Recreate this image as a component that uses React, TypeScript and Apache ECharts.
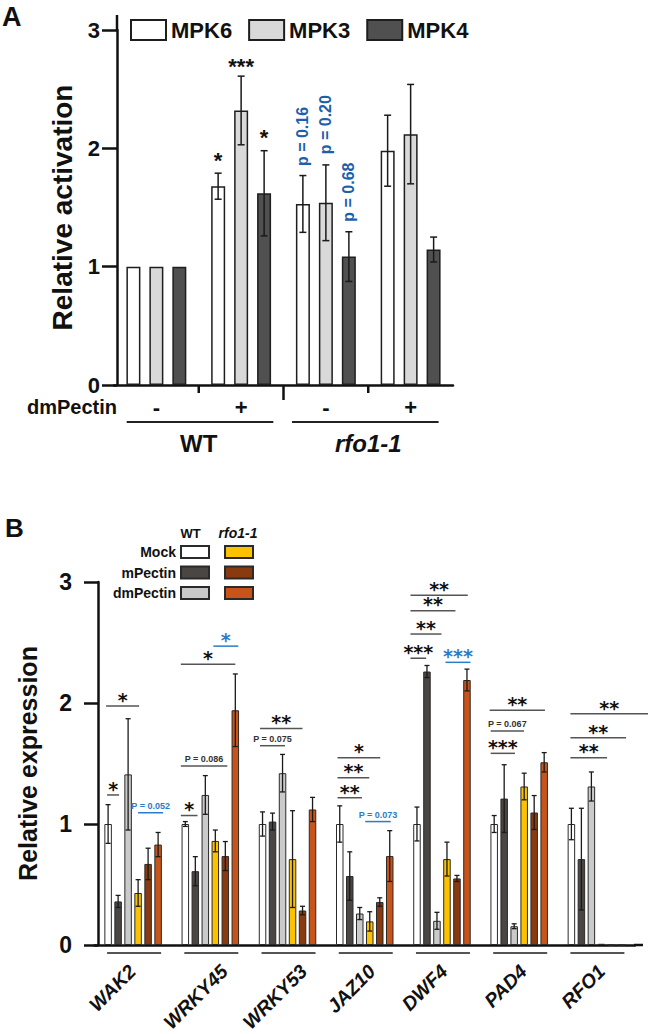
import React, { useEffect, useRef } from 'react';
import * as echarts from 'echarts';

// ---------------- Panel A data ----------------
const treatmentsA = ['-', '+', '-', '+'];
const genotypesA = ['WT', 'rfo1-1'];
const kinases = ['MPK6', 'MPK3', 'MPK4'];
const mpk6Mean = [1, 1.68, 1.53, 1.98];
const mpk6Err = [0, 0.11, 0.24, 0.3];
const mpk3Mean = [1, 2.32, 1.54, 2.12];
const mpk3Err = [0, 0.29, 0.32, 0.42];
const mpk4Mean = [1, 1.62, 1.085, 1.145];
const mpk4Err = [0, 0.36, 0.21, 0.105];
// [category, kinase index, value at label centre, label]
const starsA: [number, number, number, string][] = [
  [1, 0, 1.94, '*'],
  [1, 1, 2.73, '***'],
  [1, 2, 2.13, '*'],
];
const pValuesA: [number, number, number, string][] = [
  [2, 0, 2.1, 'p = 0.16'],
  [2, 1, 2.2, 'p = 0.20'],
  [2, 2, 1.63, 'p = 0.68'],
];

// ---------------- Panel B data ----------------
const genes = ['WAK2', 'WRKY45', 'WRKY53', 'JAZ10', 'DWF4', 'PAD4', 'RFO1'];
const treatmentsB = ['Mock', 'mPectin', 'dmPectin'];
const wtMock = [1.0, 1.0, 1.0, 1.0, 1.0, 1.0, 1.0];
const wtMockErr = [0.16, 0.02, 0.1, 0.15, 0.14, 0.07, 0.13];
const wtM = [0.36, 0.61, 1.02, 0.57, 2.26, 1.21, 0.71];
const wtMErr = [0.05, 0.12, 0.07, 0.2, 0.05, 0.28, 0.42];
const wtDm = [1.41, 1.24, 1.42, 0.26, 0.2, 0.155, 1.31];
const wtDmErr = [0.46, 0.16, 0.155, 0.05, 0.07, 0.02, 0.12];
const rfMock = [0.43, 0.86, 0.71, 0.195, 0.71, 1.31, 0.01];
const rfMockErr = [0.11, 0.09, 0.4, 0.08, 0.14, 0.11, 0];
const rfM = [0.67, 0.735, 0.285, 0.355, 0.55, 1.095, 0];
const rfMErr = [0.13, 0.12, 0.035, 0.035, 0.025, 0.14, 0];
const rfDm = [0.83, 1.94, 1.12, 0.735, 2.19, 1.51, 0];
const rfDmErr = [0.1, 0.3, 0.1, 0.21, 0.09, 0.08, 0];
// [gene, from bar, to bar, value of line, label, blue]
const sigB: [number, number, number, number, string, boolean][] = [
  [0, -0.1, 1.1, 1.24, '*', false],
  [0, -0.2, 3.1, 1.975, '*', false],
  [0, 3.0, 5.5, 1.093, 'P = 0.052', true],
  [1, -0.45, 1.22, 1.07, '*', false],
  [1, -0.45, 4.2, 1.48, 'P = 0.086', false],
  [1, -0.45, 5.0, 2.32, '*', false],
  [1, 2.8, 5.3, 2.47, '*', true],
  [2, -0.25, 2.25, 1.647, 'P = 0.075', false],
  [2, -0.25, 4.0, 1.79, '**', false],
  [3, -0.22, 2.22, 1.217, '**', false],
  [3, -0.22, 2.95, 1.383, '**', false],
  [3, -0.22, 4.05, 1.548, '*', false],
  [3, 2.55, 5.1, 1.02, 'P = 0.073', true],
  [4, -0.65, 0.92, 2.37, '***', false],
  [4, -0.65, 2.45, 2.57, '**', false],
  [4, -0.65, 3.85, 2.763, '**', false],
  [4, -0.65, 5.08, 2.89, '**', false],
  [4, 2.85, 5.35, 2.336, '***', true],
  [5, -0.35, 2.08, 1.584, '***', false],
  [5, -0.35, 2.98, 1.769, 'P = 0.067', false],
  [5, -0.45, 5.08, 1.94, '**', false],
  [6, -0.1, 3.57, 1.548, '**', false],
  [6, -0.1, 5.47, 1.713, '**', false],
  [6, -0.1, 7.67, 1.911, '**', false],
];

// ---------------- style / layout constants ----------------
const FONT = '"Liberation Sans", Arial, Helvetica, sans-serif';
const STAR_FONT = '"DejaVu Sans", "Liberation Sans", sans-serif';
const INK = '#111111';
const BLUE_A = '#1d5fab';
const BLUE_B = '#2b7cc6';
const A_BAR_W = 14;
const A_STEP = 23;
const B_BAR_W = 7.5;
const B_STEP = 10;
const GRID_A = { left: 114, top: 30, width: 339, height: 355 };
const GRID_B = { left: 94.5, top: 582, width: 540.5, height: 363 };
const labelShiftB = [-1, 14, 16, 7, 2, 4, 5];
const colorsA = ['#ffffff', '#d9d9d9', '#505050'];
const colorsB = ['#ffffff', '#4a4644', '#cbcacb', '#fcc200', '#893a0e', '#c9541a'];

function errData(means: number[], errs: number[], k: number) {
  return means.map((m, i) => [i, m, errs[i], k]).filter((d) => d[2] > 0);
}

function errSeries(gi: number, data: number[][], step: number, n: number, cap: number, lw: number) {
  return {
    type: 'custom',
    xAxisIndex: gi,
    yAxisIndex: gi,
    z: 5,
    silent: true,
    clip: false,
    encode: { x: 0, y: 1 },
    data,
    renderItem: (_p: any, api: any) => {
      const cat = api.value(0);
      const m = api.value(1);
      const e = api.value(2);
      const k = api.value(3);
      const base = api.coord([cat, m]);
      const x = base[0] + (k - (n - 1) / 2) * step;
      const yt = api.coord([cat, m + e])[1];
      const yb = api.coord([cat, m - e])[1];
      const st = { stroke: '#1a1a1a', lineWidth: lw };
      return {
        type: 'group',
        children: [
          { type: 'line', shape: { x1: x, y1: yt, x2: x, y2: yb }, style: st },
          { type: 'line', shape: { x1: x - cap, y1: yt, x2: x + cap, y2: yt }, style: st },
          { type: 'line', shape: { x1: x - cap, y1: yb, x2: x + cap, y2: yb }, style: st },
        ],
      };
    },
  };
}

function buildOption() {
  const meansA = [mpk6Mean, mpk3Mean, mpk4Mean];
  const errsA = [mpk6Err, mpk3Err, mpk4Err];
  const meansB = [wtMock, wtM, wtDm, rfMock, rfM, rfDm];
  const errsB = [wtMockErr, wtMErr, wtDmErr, rfMockErr, rfMErr, rfDmErr];
  const namesB = [...treatmentsB, ...treatmentsB.map((t) => 'rfo1-1 ' + t)];

  const barsA = kinases.map((name, k) => ({
    type: 'bar',
    name,
    xAxisIndex: 0,
    yAxisIndex: 0,
    data: meansA[k],
    barWidth: A_BAR_W,
    barGap: '64%',
    itemStyle: { color: colorsA[k], borderColor: '#1e1e1e', borderWidth: 1.5 },
  }));
  const barsB = namesB.map((name, k) => ({
    type: 'bar',
    name,
    xAxisIndex: 1,
    yAxisIndex: 1,
    data: meansB[k],
    barWidth: B_BAR_W,
    barGap: '33.3%',
    itemStyle: { color: colorsB[k], borderColor: '#2a2a2a', borderWidth: 1 },
  }));
  const errA = ([] as number[][]).concat(...meansA.map((m, k) => errData(m, errsA[k], k)));
  const errB = ([] as number[][]).concat(...meansB.map((m, k) => errData(m, errsB[k], k)));

  const yAxisCommon = (gi: number, name: string, nameSize: number, nameGap: number, tickLen: number, labelSize: number, margin: number, offset: number) => ({
    type: 'value',
    gridIndex: gi,
    min: 0,
    max: 3,
    interval: 1,
    offset,
    name,
    nameLocation: 'middle',
    nameGap,
    nameTextStyle: { fontFamily: FONT, fontSize: nameSize, fontWeight: 'bold', color: INK },
    splitLine: { show: false },
    axisLine: { show: true, lineStyle: { color: INK, width: 2.5 } },
    axisTick: { show: true, length: tickLen, lineStyle: { color: INK, width: 2.5 } },
    axisLabel: { fontFamily: FONT, fontSize: labelSize, fontWeight: 'bold', color: INK, margin },
  });

  return {
    animation: false,
    backgroundColor: '#ffffff',
    textStyle: { fontFamily: FONT },
    grid: [GRID_A, GRID_B],
    legend: [
      {
        data: kinases,
        left: 130,
        top: 19,
        padding: 0,
        itemWidth: 35,
        itemHeight: 20,
        itemGap: 16,
        icon: 'rect',
        selectedMode: false,
        textStyle: { fontFamily: FONT, fontSize: 22, fontWeight: 'bold', color: INK },
      },
      {
        data: treatmentsB,
        orient: 'vertical',
        align: 'right',
        right: 438,
        top: 545,
        padding: 0,
        itemWidth: 28,
        itemHeight: 12,
        itemGap: 6.5,
        icon: 'rect',
        selectedMode: false,
        textStyle: { fontFamily: FONT, fontSize: 14, fontWeight: 'bold', color: INK, lineHeight: 12 },
      },
      {
        data: namesB.slice(3),
        orient: 'vertical',
        left: 224,
        top: 545,
        padding: 0,
        itemWidth: 28,
        itemHeight: 12,
        itemGap: 6.5,
        icon: 'rect',
        selectedMode: false,
        formatter: () => '',
        textStyle: { fontSize: 1, lineHeight: 12 },
      },
    ],
    xAxis: [
      {
        type: 'category',
        gridIndex: 0,
        data: treatmentsA,
        axisLine: { lineStyle: { color: INK, width: 2.5 } },
        axisTick: { show: false },
        axisLabel: { fontFamily: FONT, fontSize: 22, fontWeight: 'bold', color: INK, margin: 11 },
      },
      {
        type: 'category',
        gridIndex: 1,
        data: genes,
        axisLine: { lineStyle: { color: INK, width: 2.5 } },
        axisTick: { show: false },
        axisLabel: { show: false },
      },
    ],
    yAxis: [
      yAxisCommon(0, 'Relative activation', 28, 37, 15, 22, 17, -3),
      yAxisCommon(1, 'Relative expression', 25, 58, 14, 23, 26, -3.5),
    ],
    series: [
      ...barsA,
      ...barsB,
      errSeries(0, errA, A_STEP, 3, 3.5, 1.5),
      errSeries(1, errB, B_STEP, 6, 2.5, 1.3),
    ],
  };
}

function buildGraphics(chart: any) {
  const g: any[] = [];
  const px = (gi: number, c: number, v: number) => chart.convertToPixel({ gridIndex: gi }, [c, v]) as number[];
  const text = (x: number, y: number, t: string, o: any = {}, extra: any = {}) => ({
    type: 'text',
    x,
    y,
    z: 50,
    silent: true,
    ...extra,
    style: {
      text: t,
      fontFamily: FONT,
      fontSize: 14,
      fontWeight: 'bold',
      fill: INK,
      align: 'center',
      verticalAlign: 'middle',
      ...o,
    },
  });
  const line = (x1: number, y1: number, x2: number, y2: number, stroke = INK, w = 2) => ({
    type: 'line',
    z: 50,
    silent: true,
    shape: { x1, y1, x2, y2 },
    style: { stroke, lineWidth: w },
  });

  // ---- Panel A ----
  g.push(text(2, 17, 'A', { fontSize: 27, align: 'left' }));
  const a0 = px(0, 0, 0);
  const bandA = px(0, 1, 0)[0] - a0[0];
  const axA = GRID_A.left + 3;
  const yA3 = px(0, 0, 3)[1];
  g.push(line(axA, yA3, axA, yA3 - 15, INK, 2.5));
  [1, 2, 3].forEach((i) => {
    const x = a0[0] + (i - 0.5) * bandA;
    g.push(line(x, a0[1], x, a0[1] + (i === 2 ? 15 : 8), INK, 2.5));
  });
  g.push(text(axA, a0[1] + 22, 'dmPectin', { fontSize: 20, align: 'right' }));
  g.push(line(a0[0] - 0.35 * bandA, a0[1] + 37, a0[0] + 1.38 * bandA, a0[1] + 37, '#222', 1.8));
  g.push(line(a0[0] + 1.6 * bandA, a0[1] + 37, a0[0] + 3.33 * bandA, a0[1] + 37, '#222', 1.8));
  g.push(text(a0[0] + 0.5 * bandA, a0[1] + 58, genotypesA[0], { fontSize: 24 }));
  g.push(text(a0[0] + 2.5 * bandA, a0[1] + 58, genotypesA[1], { fontSize: 24, fontStyle: 'italic' }));
  starsA.forEach(([c, k, v, t]) => {
    const p = px(0, c, v);
    g.push(text(p[0] + (k - 1) * A_STEP, p[1] + 0.22 * 22, t, { fontSize: 22 }));
  });
  pValuesA.forEach(([c, k, v, t]) => {
    const p = px(0, c, v);
    g.push(text(p[0] + (k - 1) * A_STEP, p[1], t, { fontSize: 16, fill: BLUE_A }, { rotation: Math.PI / 2 }));
  });

  // ---- Panel B ----
  g.push(text(5, 528, 'B', { fontSize: 26, align: 'left' }));
  g.push(text(190.5, 533, 'WT', { fontSize: 13 }));
  g.push(text(238, 533, 'rfo1-1', { fontSize: 14, fontStyle: 'italic' }));
  const b0 = px(1, 0, 0);
  const bandB = px(1, 1, 0)[0] - b0[0];
  genes.forEach((name, i) => {
    const c = px(1, i, 0);
    g.push(line(c[0] - 26, c[1] + 8, c[0] + 28, c[1] + 8, '#555', 2));
    g.push(
      text(c[0] + labelShiftB[i], c[1] + 23, name, { fontSize: 19.5, fontStyle: 'italic', align: 'right' }, { rotation: Math.PI / 4 })
    );
  });
  const bEnd = b0[0] + (genes.length - 0.5) * bandB;
  g.push(line(bEnd - 1, b0[1], 643, b0[1], INK, 2.5));
  sigB.forEach(([gi, f, t, v, label, blue]) => {
    const c = px(1, gi, v);
    const x1 = c[0] + (f - 2.5) * B_STEP;
    const x2 = c[0] + (t - 2.5) * B_STEP;
    const col = blue ? BLUE_B : '#555555';
    g.push(line(x1, c[1], x2, c[1], col, 1.5));
    const isP = label.startsWith('P');
    if (isP) {
      g.push(text((x1 + x2) / 2, c[1] - 7, label, { fontSize: 9, fill: blue ? BLUE_B : '#333' }));
    } else {
      g.push(
        text((x1 + x2) / 2, c[1] - 10 + 0.2 * 19, label, { fontSize: 19, fontFamily: STAR_FONT, fill: blue ? BLUE_B : INK })
      );
    }
  });
  return g;
}

export default function App() {
  const ref = useRef<HTMLDivElement>(null);
  useEffect(() => {
    const chart = echarts.init(ref.current as HTMLDivElement, null, { renderer: 'svg' });
    chart.setOption(buildOption() as any);
    chart.setOption({ graphic: buildGraphics(chart) } as any);
    return () => chart.dispose();
  }, []);
  return <div ref={ref} style={{ position: 'absolute', left: 0, top: 0, width: 648, height: 1034 }} />;
}
